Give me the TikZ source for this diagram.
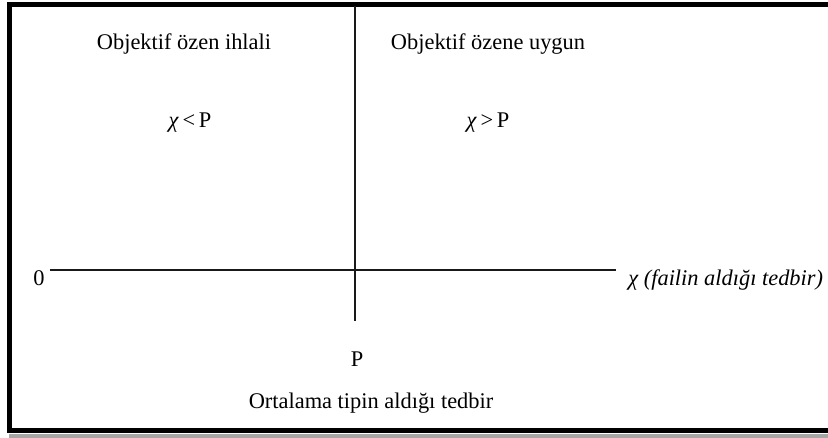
\documentclass[tikz,border=0pt]{standalone}
\usepackage{fontspec}
\setmainfont{Liberation Serif}
\begin{document}
\begin{tikzpicture}[x=0.5pt, y=-0.5pt,
  every node/.style={inner sep=0pt, anchor=base, font=\fontsize{11.2pt}{13pt}\selectfont},
  axis/.style={line width=1.25pt, black!90},
  frame/.style={line width=2.8pt}]
\useasboundingbox (0,0) rectangle (828,438);
\clip (0,0) rectangle (828,438);
% frame with shadow
\draw[line width=2pt, black!35] (9,435.5) -- (840,435.5);
\draw[frame] (840,4.5) -- (9.5,4.5) -- (9.5,430.5) -- (840,430.5);
% axes
\coordinate (origin) at (50,270);
\coordinate (xend) at (616,270);
\coordinate (ptop) at (355,6);
\coordinate (pbot) at (355,321);
\draw[axis] (origin) -- (xend);
\draw[axis] (ptop) -- (pbot);
% labels
\node (ihlal) at (184,50) {Objektif özen ihlali};
\node (uygun) at (488,50) {Objektif özene uygun};
\node (kucuk) at (190,128) {\textit{χ}\,<\,P};
\node (buyuk) at (488,128) {\textit{χ}\,>\,P};
\node (sifir) at (39,285) {0};
\node[anchor=base west] (xlabel) at (628,285) {\textit{χ (failin aldığı tedbir)}};
\node (pval) at (357,366) {P};
\node (ortalama) at (371,408) {Ortalama tipin aldığı tedbir};
\end{tikzpicture}
\end{document}
